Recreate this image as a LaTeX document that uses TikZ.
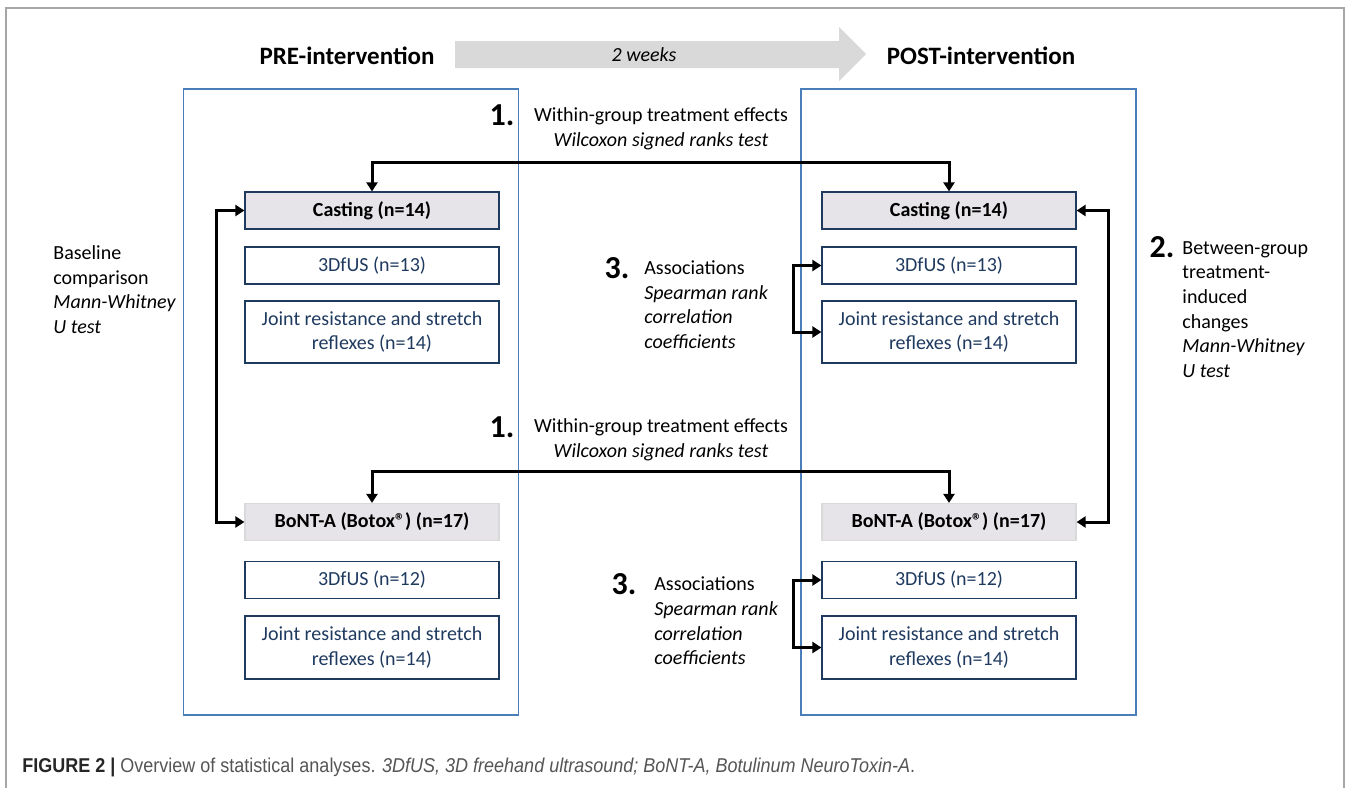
\documentclass[tikz,border=0pt]{standalone}
\usepackage{fontspec}
\setmainfont{Carlito}
\newfontfamily\capfont[FakeStretch=0.9]{Liberation Sans}
\usetikzlibrary{arrows.meta}
\definecolor{navy}{HTML}{1F3A5F}
\definecolor{frameblue}{HTML}{4A7EBB}
\definecolor{boxgray}{HTML}{E6E4E8}
\definecolor{arrowgray}{HTML}{D9D9D9}
\definecolor{capgray}{HTML}{555555}

\begin{document}
\begin{tikzpicture}[x=0.5pt, y=-0.5pt, font=\fontsize{10pt}{12.3pt}\selectfont,
>={Triangle[length=4.5pt,width=5.5pt]},
phase/.style = {rectangle, draw=frameblue, line width=0.7pt, minimum width=167.5pt, minimum height=313pt},
grp/.style = {rectangle, draw=navy, fill=boxgray, line width=0.6pt, minimum width=127pt, minimum height=18.5pt, font=\fontsize{10pt}{12.3pt}\selectfont\bfseries},
meas/.style = {rectangle, draw=navy, text=navy, line width=0.6pt, minimum width=127pt, minimum height=18.5pt, align=center},
txt/.style = {inner sep=0pt, align=left},
num/.style = {inner sep=0pt, font=\fontsize{16pt}{18pt}\selectfont\bfseries},
head/.style = {font=\fontsize{12.5pt}{15pt}\selectfont\bfseries},
link/.style = {<->, line width=1.5pt}]
\useasboundingbox (0,0) rectangle (1358,787);
\draw[gray!70, line width=0.8pt] (6,8) rectangle (1344,800);
% phases and time arrow
\fill[arrowgray] (455,41) -- (839,41) -- (839,27) -- (866,54) -- (839,81) -- (839,68) -- (455,68) -- cycle;
\node (wk) at (644,55) {\textit{2 weeks}};
\node[head] (pre) at (347,56) {PRE-intervention};
\node[head] (post) at (981,56) {POST-intervention};
\node[phase] (prebox) at (351,402) {};
\node[phase] (postbox) at (968.5,402) {};
% groups, pre
\node[grp] (cpre) at (372,210.5) {Casting (n=14)};
\node[meas] (upre) at (372,265.5) {3DfUS (n=13)};
\node[meas, minimum height=31pt] (jpre) at (372,332) {Joint resistance and stretch\\reflexes (n=14)};
\node[grp, draw=black!15] (bpre) at (372,522) {BoNT-A (Botox®) (n=17)};
\node[meas] (u2pre) at (372,580) {3DfUS (n=12)};
\node[meas, minimum height=31.5pt] (j2pre) at (372,647.5) {Joint resistance and stretch\\reflexes (n=14)};
% groups, post
\node[grp] (cpost) at (949,210.5) {Casting (n=14)};
\node[meas] (upost) at (949,265.5) {3DfUS (n=13)};
\node[meas, minimum height=31pt] (jpost) at (949,332) {Joint resistance and stretch\\reflexes (n=14)};
\node[grp, draw=black!15] (bpost) at (949,522) {BoNT-A (Botox®) (n=17)};
\node[meas] (u2post) at (949,580) {3DfUS (n=12)};
\node[meas, minimum height=31.5pt] (j2post) at (949,647.5) {Joint resistance and stretch\\reflexes (n=14)};
% labels
\node[num] (n1a) at (502,115) {1.};
\node[txt, align=center] (wg1) at (661,129) {Within-group treatment effects\\\textit{Wilcoxon signed ranks test}};
\node[num] (n1b) at (502,427) {1.};
\node[txt, align=center] (wg2) at (661,440) {Within-group treatment effects\\\textit{Wilcoxon signed ranks test}};
\node[num] (n3a) at (617,268) {3.};
\node[txt, anchor=west] (as1) at (644,304.5) {Associations\\\textit{Spearman rank}\\\textit{correlation}\\\textit{coefficients}};
\node[num] (n3b) at (624,584) {3.};
\node[txt, anchor=west] (as2) at (654,621) {Associations\\\textit{Spearman rank}\\\textit{correlation}\\\textit{coefficients}};
\node[txt, anchor=west] (base) at (53,289.5) {Baseline\\comparison\\\textit{Mann-Whitney}\\\textit{U test}};
\node[num] (n2) at (1162,247) {2.};
\node[txt, anchor=west] (bg) at (1182,309.5) {Between-group\\treatment-\\induced\\changes\\\textit{Mann-Whitney}\\\textit{U test}};
% connectors
\coordinate (top1) at (661,162);
\coordinate (top2) at (661,471);
\coordinate (lft) at (216,366);
\coordinate (rgt) at (1108,366);
\coordinate (ac1) at (793,298);
\coordinate (ac2) at (793,614);
\draw[link] (cpre.north) |- (top1) -| (cpost.north);
\draw[link] (bpre.north) |- (top2) -| (bpost.north);
\draw[link] (cpre.west) -| (lft) |- (bpre.west);
\draw[link] (cpost.east) -| (rgt) |- (bpost.east);
\draw[link] (upost.west) -| (ac1) |- (jpost.west);
\draw[link] (u2post.west) -| (ac2) |- (j2post.west);
% caption
\node[anchor=west, inner sep=0pt, font=\capfont\fontsize{10pt}{12pt}\selectfont, text=capgray] (cap) at (22,767) {{\bfseries\color{black!85}FIGURE 2 |} Overview of statistical analyses. \textit{3DfUS, 3D freehand ultrasound; BoNT-A, Botulinum NeuroToxin-A}.};
\end{tikzpicture}
\end{document}
